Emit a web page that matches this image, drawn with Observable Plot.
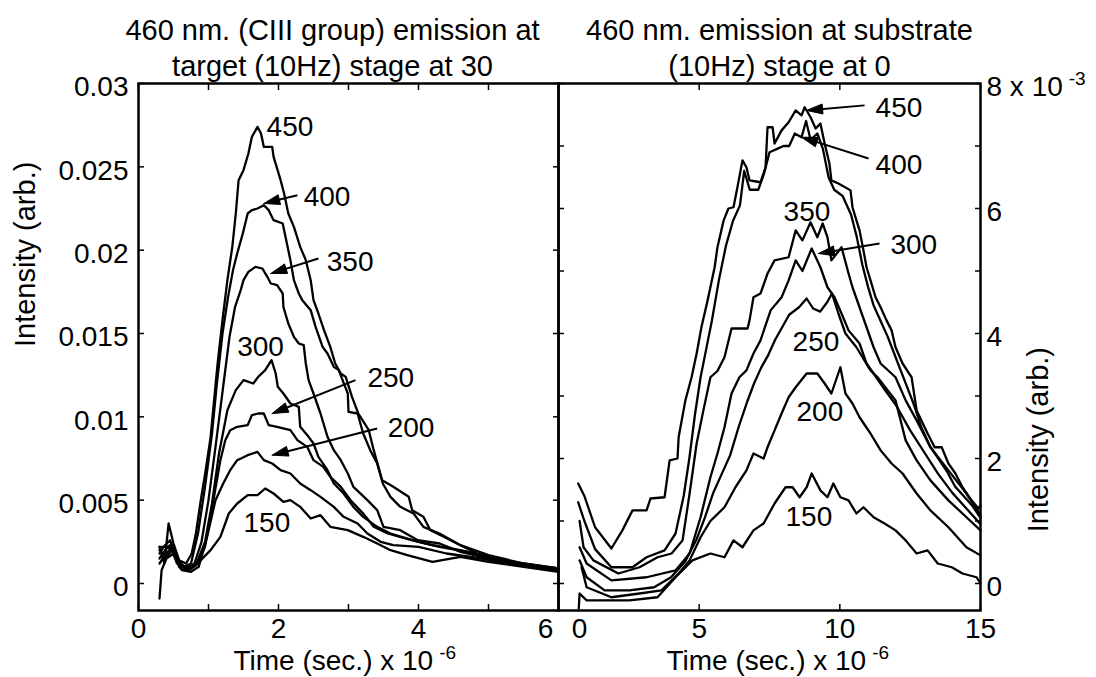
<!DOCTYPE html>
<html><head><meta charset="utf-8">
<script src="https://cdn.jsdelivr.net/npm/d3@7"></script>
<script src="https://cdn.jsdelivr.net/npm/@observablehq/plot@0.6"></script>
<style>
body{margin:0;background:#fff;}
#chart{position:relative;width:1096px;height:677px;overflow:hidden;background:#fff;}
#chart svg{position:absolute;top:0;}
</style></head><body><div id="chart"></div>
<script>
// ---------- Left panel: target (x: time in 1e-6 s, y: intensity) ----------
const L450 = [[0.30,0.0022],[0.37,0.0012],[0.43,0.0036],[0.50,0.0024],[0.58,0.0014],[0.68,0.0012],[0.76,0.0018],[0.82,0.0030],[0.89,0.0050],[0.96,0.0068],[1.03,0.0088],[1.08,0.0110],[1.13,0.0132],[1.20,0.0158],[1.27,0.0182],[1.34,0.0202],[1.39,0.0222],[1.43,0.0242],[1.50,0.0248],[1.57,0.0258],[1.62,0.0268],[1.70,0.0274],[1.75,0.0270],[1.79,0.0262],[1.91,0.0262],[1.93,0.0256],[2.03,0.0242],[2.08,0.0234],[2.14,0.0222],[2.22,0.0214],[2.31,0.0202],[2.39,0.0194],[2.46,0.0182],[2.50,0.0170],[2.57,0.0162],[2.65,0.0152],[2.74,0.0142],[2.81,0.0132],[2.89,0.0126],[2.96,0.0124],[3.05,0.0112],[3.14,0.0102],[3.29,0.0092],[3.36,0.0080],[3.48,0.0062],[3.64,0.0058],[3.86,0.0052],[3.91,0.0044],[4.07,0.0040],[4.17,0.0032],[4.36,0.0028],[4.64,0.0022],[4.84,0.0018],[5.17,0.0014],[5.55,0.0010],[6.00,0.0008]];
const L400 = [[0.30,0.0018],[0.36,0.0022],[0.45,0.0026],[0.55,0.0015],[0.65,0.0010],[0.75,0.0012],[0.85,0.0030],[0.95,0.0058],[1.05,0.0090],[1.12,0.0120],[1.20,0.0150],[1.28,0.0172],[1.35,0.0188],[1.41,0.0198],[1.49,0.0210],[1.56,0.0222],[1.62,0.0224],[1.70,0.0225],[1.79,0.0227],[1.86,0.0224],[1.93,0.0218],[2.06,0.0216],[2.10,0.0208],[2.17,0.0194],[2.22,0.0182],[2.29,0.0174],[2.34,0.0170],[2.46,0.0164],[2.53,0.0154],[2.63,0.0142],[2.70,0.0138],[2.79,0.0130],[2.86,0.0128],[2.99,0.0114],[3.00,0.0103],[3.13,0.0102],[3.21,0.0090],[3.31,0.0080],[3.41,0.0072],[3.49,0.0060],[3.60,0.0052],[3.74,0.0046],[3.93,0.0042],[4.07,0.0034],[4.30,0.0030],[4.60,0.0023],[5.00,0.0017],[5.50,0.0012],[6.00,0.0009]];
const L350 = [[0.30,0.0015],[0.38,0.0020],[0.45,0.0023],[0.55,0.0012],[0.68,0.0009],[0.80,0.0012],[0.90,0.0025],[1.00,0.0050],[1.10,0.0082],[1.20,0.0115],[1.30,0.0148],[1.38,0.0166],[1.46,0.0176],[1.50,0.0182],[1.57,0.0187],[1.67,0.0190],[1.77,0.0189],[1.84,0.0184],[1.89,0.0180],[1.98,0.0179],[2.06,0.0174],[2.07,0.0166],[2.14,0.0156],[2.22,0.0148],[2.29,0.0144],[2.36,0.0143],[2.39,0.0132],[2.43,0.0122],[2.50,0.0114],[2.60,0.0102],[2.70,0.0088],[2.79,0.0080],[2.89,0.0074],[2.99,0.0066],[3.07,0.0058],[3.27,0.0050],[3.41,0.0044],[3.50,0.0034],[3.74,0.0032],[3.99,0.0026],[4.30,0.0024],[4.60,0.0019],[5.00,0.0015],[5.50,0.0011],[6.00,0.0009]];
const L300 = [[0.30,0.0012],[0.40,0.0018],[0.48,0.0022],[0.58,0.0010],[0.70,0.0008],[0.82,0.0011],[0.95,0.0025],[1.05,0.0048],[1.15,0.0078],[1.27,0.0104],[1.39,0.0116],[1.50,0.0122],[1.64,0.0120],[1.71,0.0124],[1.81,0.0128],[1.90,0.0134],[1.96,0.0126],[1.99,0.0118],[2.07,0.0114],[2.17,0.0108],[2.29,0.0106],[2.31,0.0094],[2.43,0.0088],[2.50,0.0084],[2.57,0.0076],[2.70,0.0068],[2.79,0.0060],[2.93,0.0054],[3.07,0.0046],[3.21,0.0040],[3.41,0.0034],[3.60,0.0030],[4.00,0.0025],[4.30,0.0022],[4.70,0.0019],[5.20,0.0013],[5.60,0.0010],[6.00,0.0008]];
const L250 = [[0.30,0.0020],[0.40,0.0016],[0.50,0.0021],[0.60,0.0009],[0.72,0.0008],[0.85,0.0012],[0.95,0.0022],[1.05,0.0045],[1.17,0.0074],[1.24,0.0086],[1.31,0.0092],[1.41,0.0094],[1.56,0.0095],[1.62,0.0101],[1.71,0.0102],[1.79,0.0102],[1.86,0.0095],[1.98,0.0094],[2.17,0.0092],[2.27,0.0086],[2.41,0.0082],[2.50,0.0074],[2.64,0.0070],[2.74,0.0064],[2.89,0.0058],[3.03,0.0050],[3.21,0.0042],[3.36,0.0034],[3.56,0.0030],[3.90,0.0026],[4.20,0.0023],[4.60,0.0020],[5.00,0.0016],[5.50,0.0012],[6.00,0.0009]];
const L200 = [[0.30,-0.0009],[0.33,0.0008],[0.40,0.0015],[0.50,0.0018],[0.62,0.0008],[0.75,0.0007],[0.86,0.0010],[0.98,0.0028],[1.10,0.0050],[1.21,0.0060],[1.31,0.0068],[1.41,0.0074],[1.56,0.0077],[1.70,0.0079],[1.79,0.0074],[1.91,0.0072],[2.03,0.0068],[2.17,0.0066],[2.31,0.0060],[2.46,0.0056],[2.60,0.0052],[2.79,0.0046],[2.93,0.0040],[3.13,0.0036],[3.27,0.0030],[3.46,0.0025],[3.64,0.0023],[4.00,0.0022],[4.40,0.0018],[4.90,0.0015],[5.40,0.0011],[6.00,0.0008]];
const L150 = [[0.30,0.0022],[0.42,0.0022],[0.50,0.0019],[0.62,0.0011],[0.75,0.0009],[0.85,0.0012],[0.89,0.0014],[1.03,0.0020],[1.17,0.0028],[1.29,0.0042],[1.41,0.0048],[1.56,0.0053],[1.70,0.0053],[1.81,0.0057],[1.93,0.0054],[2.07,0.0049],[2.17,0.0050],[2.31,0.0046],[2.46,0.0039],[2.60,0.0041],[2.74,0.0034],[2.99,0.0032],[3.21,0.0028],[3.41,0.0024],[3.60,0.0020],[3.84,0.0017],[4.20,0.0013],[4.60,0.0016],[5.00,0.0013],[5.50,0.0010],[6.00,0.0007]];

const leftLabels = [
  {t:"450", x:1.83, y:0.0274}, {t:"400", x:2.36, y:0.0232}, {t:"350", x:2.69, y:0.0193},
  {t:"300", x:1.41, y:0.0142}, {t:"250", x:3.27, y:0.0123}, {t:"200", x:3.56, y:0.0093},
  {t:"150", x:1.50, y:0.0036}
];
const leftArrows = [
  {x1:2.27, y1:0.0233, x2:1.79, y2:0.0228},
  {x1:2.57, y1:0.0195, x2:1.89, y2:0.0186},
  {x1:3.10, y1:0.0122, x2:1.91, y2:0.0102},
  {x1:3.41, y1:0.0093, x2:1.91, y2:0.0077}
];
const leftXTicks = [0,1,2,3,4,5,6];
const leftXLabels = [0,2,4];
const leftXLabelEdge = [6];
const leftYTicks = [0,0.005,0.01,0.015,0.02,0.025,0.03];

// ---------- Right panel: substrate (x: time in 1e-6 s, y: intensity in 1e-3) ----------
const R450 = [[0.70,1.60],[0.92,1.40],[1.30,0.90],[1.88,0.56],[2.27,0.85],[2.63,1.17],[3.13,1.17],[3.27,1.36],[3.77,1.38],[3.95,1.97],[4.23,2.00],[4.27,2.34],[4.51,2.93],[4.73,3.30],[4.91,3.68],[5.08,4.10],[5.30,4.53],[5.55,5.06],[5.65,5.38],[5.87,5.81],[6.04,6.00],[6.22,6.02],[6.36,6.34],[6.54,6.77],[6.68,6.66],[6.79,6.45],[7.18,6.42],[7.36,6.66],[7.43,7.30],[7.61,7.30],[7.68,7.04],[7.93,7.25],[8.18,7.38],[8.43,7.57],[8.64,7.49],[8.75,7.62],[8.96,7.46],[9.14,7.28],[9.31,7.36],[9.46,7.04],[9.63,6.72],[9.70,6.45],[9.95,6.40],[10.38,6.29],[10.45,6.02],[10.59,5.81],[10.70,5.65],[10.84,5.33],[10.95,5.06],[11.09,4.85],[11.27,4.58],[11.45,4.42],[11.66,4.21],[11.84,4.05],[11.98,3.78],[12.23,3.52],[12.55,3.30],[12.73,2.77],[13.12,2.40],[13.37,2.18],[13.62,2.18],[13.86,1.92],[14.11,1.76],[14.36,1.54],[14.68,1.33],[14.93,1.20],[15.00,1.25]];
const R400 = [[0.70,1.30],[0.92,1.00],[1.30,0.55],[1.88,0.26],[2.63,0.26],[3.13,0.42],[3.77,0.53],[4.16,0.80],[4.45,1.40],[4.65,2.00],[4.85,2.70],[5.05,3.30],[5.25,3.75],[5.45,4.20],[5.70,4.85],[5.95,5.40],[6.20,5.80],[6.45,6.05],[6.60,6.60],[6.80,6.30],[7.10,6.30],[7.30,6.55],[7.50,6.90],[7.75,6.95],[8.00,7.00],[8.20,7.00],[8.40,7.20],[8.64,7.14],[8.80,7.40],[8.96,7.10],[9.20,7.20],[9.40,6.95],[9.60,6.50],[9.80,6.30],[10.10,6.20],[10.40,5.90],[10.60,5.55],[10.80,5.10],[11.00,4.75],[11.20,4.45],[11.45,4.20],[11.70,3.95],[12.00,3.60],[12.30,3.25],[12.60,2.90],[12.90,2.50],[13.20,2.20],[13.50,2.00],[13.80,1.80],[14.10,1.55],[14.40,1.40],[14.70,1.25],[15.00,1.05]];
const R350 = [[0.75,1.00],[0.89,0.58],[1.24,0.37],[2.13,0.16],[2.88,0.26],[3.52,0.42],[4.02,0.48],[4.41,0.69],[4.66,1.44],[4.91,2.24],[5.15,2.77],[5.40,3.30],[5.65,3.40],[5.90,3.62],[6.15,4.08],[6.72,4.08],[6.79,4.21],[6.93,4.58],[7.18,4.64],[7.43,4.96],[7.68,5.17],[8.18,5.22],[8.43,5.65],[8.67,5.49],[8.96,5.78],[9.20,5.54],[9.39,5.76],[9.56,5.54],[9.70,5.17],[10.06,5.38],[10.31,4.96],[10.45,4.74],[10.70,4.42],[10.95,4.10],[11.20,3.78],[11.45,3.52],[11.98,3.30],[12.34,2.93],[12.73,2.61],[13.22,2.18],[13.86,1.81],[14.50,1.44],[15.00,1.10]];
const R300 = [[0.75,0.58],[1.00,0.32],[1.88,0.05],[3.13,0.10],[4.16,0.21],[4.66,0.48],[5.05,1.06],[5.40,1.70],[5.65,2.08],[5.90,2.50],[6.15,3.04],[6.43,3.30],[6.68,3.41],[6.93,3.68],[7.18,3.89],[7.54,4.37],[7.93,4.58],[8.18,4.85],[8.43,5.17],[8.67,5.00],[9.00,5.36],[9.31,5.06],[9.56,4.74],[9.81,4.58],[10.06,4.32],[10.31,4.05],[10.70,3.84],[10.95,3.52],[11.20,3.36],[11.60,3.10],[12.00,2.85],[12.50,2.45],[13.00,2.10],[13.50,1.75],[14.00,1.45],[14.50,1.20],[15.00,0.95]];
const R250 = [[0.75,0.37],[1.00,0.10],[1.64,-0.11],[2.52,-0.11],[3.40,-0.06],[4.00,0.10],[4.50,0.35],[4.90,0.70],[5.20,1.05],[5.50,1.45],[5.80,1.75],[6.10,2.05],[6.40,2.50],[6.70,2.90],[6.95,3.20],[7.20,3.45],[7.45,3.65],[7.70,3.90],[7.95,4.10],[8.20,4.30],[8.55,4.42],[8.82,4.56],[9.05,4.40],[9.30,4.35],[9.55,4.50],[9.72,4.64],[9.95,4.32],[10.20,4.00],[10.59,3.78],[11.09,3.41],[11.34,3.30],[11.98,2.93],[12.34,2.29],[12.73,1.97],[13.22,1.65],[13.86,1.33],[14.50,1.06],[15.00,0.85]];
const R200 = [[0.82,0.26],[1.00,-0.06],[1.88,-0.22],[2.88,-0.16],[3.66,-0.11],[4.27,0.16],[4.66,0.37],[5.05,0.74],[5.40,1.00],[5.90,1.22],[6.29,1.54],[6.68,1.81],[6.93,2.08],[7.29,2.00],[7.43,2.18],[7.68,2.45],[7.93,2.72],[8.18,2.98],[8.43,3.14],[8.82,3.36],[9.20,3.36],[9.46,3.20],[9.70,3.04],[10.02,3.46],[10.20,3.04],[10.45,2.88],[10.70,2.66],[11.09,2.40],[11.45,2.13],[11.84,1.92],[12.23,1.76],[12.73,1.44],[13.22,1.17],[13.86,0.90],[14.50,0.58],[15.00,0.45]];
const R150 = [[0.72,-0.40],[0.75,-0.16],[1.00,-0.27],[2.52,-0.27],[3.52,-0.22],[4.16,0.10],[4.76,0.37],[5.40,0.48],[5.90,0.42],[6.22,0.69],[6.54,0.58],[6.93,0.85],[7.29,0.96],[7.68,1.28],[8.07,1.54],[8.32,1.54],[8.57,1.38],[8.82,1.54],[9.00,1.76],[9.31,1.49],[9.56,1.38],[9.77,1.60],[10.02,1.38],[10.31,1.33],[10.59,1.12],[10.84,1.22],[11.20,1.06],[11.59,0.96],[11.98,0.85],[12.34,0.69],[12.73,0.48],[13.12,0.53],[13.48,0.32],[13.98,0.26],[14.36,0.16],[14.86,0.10],[15.00,0.00]];

const rightLabels = [
  {t:"450", x:11.27, y:7.60}, {t:"400", x:11.27, y:6.69}, {t:"350", x:8.00, y:5.94},
  {t:"300", x:11.80, y:5.41}, {t:"250", x:8.32, y:3.86}, {t:"200", x:8.46, y:2.74},
  {t:"150", x:8.07, y:1.06}
];
const rightArrows = [
  {x1:10.88, y1:7.65, x2:8.82, y2:7.57},
  {x1:11.02, y1:6.80, x2:8.64, y2:7.14},
  {x1:11.41, y1:5.44, x2:9.24, y2:5.28}
];
const rightXTicks = [0,5,10,15];
const rightXLabels = [5,10,15];
const rightXLabelEdge = [0];
const rightYTicks = [0,1,2,3,4,5,6,7,8];
const rightYLabels = [0,2,4,6,8];

const leftTitle = "460 nm. (CIII group) emission at\ntarget (10Hz) stage at 30";
const rightTitle = "460 nm. emission at substrate\n(10Hz) stage at 0";
const yLabel = "Intensity (arb.)";
const xLabel = "Time (sec.) x 10^-6";

// ---------- helpers ----------
const FONT = '"Liberation Sans", Arial, Helvetica, sans-serif';
const H = 677, MT = 83, MB = 67;

function rows(series) {
  return series.flatMap(([name, pts]) => pts.map(([x, y]) => ({s: name, x, y})));
}
// filled arrow heads (triangles) and shafts, built from the arrow data in data space
function arrowParts(arrows, kx, ky, len = 16, half = 5) {
  const tri = [], shafts = [];
  arrows.forEach((a, i) => {
    const dxp = (a.x2 - a.x1) * kx, dyp = (a.y2 - a.y1) * ky;
    const L = Math.hypot(dxp, dyp), ux = dxp / L, uy = dyp / L;
    const bx = -ux * len, by = -uy * len, px = -uy * half, py = ux * half;
    [[0, 0], [bx + px, by + py], [bx - px, by - py], [0, 0]].forEach(([ox, oy]) =>
      tri.push({id: i, x: a.x2 + ox / kx, y: a.y2 + oy / ky}));
    shafts.push({x1: a.x1, y1: a.y1, x2: a.x2 + (bx * 0.5) / kx, y2: a.y2 + (by * 0.5) / ky});
  });
  return {tri, shafts};
}
function superscripts(svg) {
  svg.querySelectorAll("text").forEach(t => {
    const s = t.textContent;
    const i = s.indexOf("^");
    if (i < 0) return;
    t.textContent = s.slice(0, i);
    const ts = document.createElementNS("http://www.w3.org/2000/svg", "tspan");
    ts.setAttribute("dy", "-11");
    ts.setAttribute("dx", "6");
    ts.setAttribute("font-size", "19");
    ts.textContent = s.slice(i + 1);
    t.appendChild(ts);
  });
}
function panel(cfg) {
  const {width, ml, mr, xDomain, yDomain, series, labels, arrows, xTicks, xLabels, xEdge, xEdgeDx,
         yTicks, yLabelAnchor, yLabelTicks, yFormat, yPad, title, titleDx, ylabDx, xlabDx} = cfg;
  const kx = (width - ml - mr) / (xDomain[1] - xDomain[0]);
  const ky = (H - MT - MB) / (yDomain[1] - yDomain[0]);
  const {tri, shafts} = arrowParts(arrows, kx, ky);
  const svg = Plot.plot({
    width, height: H, marginLeft: ml, marginRight: mr, marginTop: MT, marginBottom: MB,
    style: {background: "transparent", overflow: "visible", fontFamily: FONT, color: "#000"},
    x: {domain: xDomain, label: null},
    y: {domain: yDomain, label: null},
    marks: [
      Plot.line(rows(series), {x: "x", y: "y", z: "s", stroke: "#000", strokeWidth: 2.3, strokeLinejoin: "round"}),
      Plot.link(shafts, {x1: "x1", y1: "y1", x2: "x2", y2: "y2", stroke: "#000", strokeWidth: 2}),
      Plot.line(tri, {x: "x", y: "y", z: "id", fill: "#000", stroke: "#000", strokeWidth: 1}),
      Plot.text(labels, {x: "x", y: "y", text: "t", textAnchor: "start", fontSize: 28, fill: "#000"}),
      Plot.frame({stroke: "#000", strokeWidth: 2.5}),
      Plot.axisX(xTicks, {anchor: "bottom", tickSize: -6, strokeWidth: 1.5, tickFormat: () => "", label: null}),
      Plot.axisX(xTicks, {anchor: "top", tickSize: -6, strokeWidth: 1.5, tickFormat: () => "", label: null}),
      Plot.axisY(yTicks, {anchor: "left", tickSize: -6, strokeWidth: 1.5, tickFormat: () => "", label: null}),
      Plot.axisY(yTicks, {anchor: "right", tickSize: -6, strokeWidth: 1.5, tickFormat: () => "", label: null}),
      Plot.axisX(xLabels, {anchor: "bottom", tickSize: 0, tickPadding: 8, fontSize: 28, label: null, tickFormat: d => String(d)}),
      Plot.axisX(xEdge, {anchor: "bottom", tickSize: 0, tickPadding: 8, fontSize: 28, label: null, dx: xEdgeDx, tickFormat: d => String(d)}),
      Plot.axisY(yLabelTicks, {anchor: yLabelAnchor, tickSize: 0, tickPadding: yPad, fontSize: 28, label: null, dy: 4, tickFormat: yFormat}),
      Plot.text([title], {frameAnchor: "top", text: d => d, lineAnchor: "bottom", dy: -8, dx: titleDx, fontSize: 29, lineHeight: 1.24, fill: "#000"}),
      Plot.text([yLabel], {frameAnchor: yLabelAnchor, text: d => d, rotate: -90, dx: ylabDx, fontSize: 29, fill: "#000"}),
      Plot.text([xLabel], {frameAnchor: "bottom-left", text: d => d, textAnchor: "start", lineAnchor: "middle", dx: xlabDx, dy: 51, fontSize: 28, fill: "#000"})
    ]
  });
  superscripts(svg);
  return svg;
}

const left = panel({
  width: 600, ml: 138, mr: 42, xDomain: [0, 6], yDomain: [-0.00162, 0.03],
  series: [["450", L450], ["400", L400], ["350", L350], ["300", L300], ["250", L250], ["200", L200], ["150", L150]],
  labels: leftLabels, arrows: leftArrows, xTicks: leftXTicks, xLabels: leftXLabels, xEdge: leftXLabelEdge, xEdgeDx: -13,
  yTicks: leftYTicks, yLabelAnchor: "left", yLabelTicks: leftYTicks, yPad: 10,
  yFormat: d => d === 0 ? "0" : String(+d.toFixed(3)),
  title: leftTitle, titleDx: -16, ylabDx: -113, xlabDx: 95
});
left.style.left = "0px";

const right = panel({
  width: 576, ml: 38, mr: 116, xDomain: [0, 15], yDomain: [-0.432, 8],
  series: [["450", R450], ["400", R400], ["350", R350], ["300", R300], ["250", R250], ["200", R200], ["150", R150]],
  labels: rightLabels, arrows: rightArrows, xTicks: rightXTicks, xLabels: rightXLabels, xEdge: rightXLabelEdge, xEdgeDx: 21,
  yTicks: rightYTicks, yLabelAnchor: "right", yLabelTicks: rightYLabels, yPad: 6,
  yFormat: d => d === 8 ? "8 x 10^-3" : String(d),
  title: rightTitle, titleDx: 10, ylabDx: 58, xlabDx: 108
});
right.style.left = "520px";

const chart = document.getElementById("chart");
chart.appendChild(left);
chart.appendChild(right);
</script>
</body></html>
